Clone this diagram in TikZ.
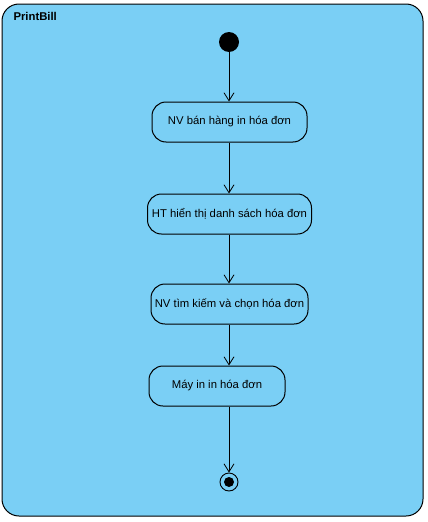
\documentclass[tikz,border=0pt]{standalone}
\usepackage{fontspec}
\setmainfont{Liberation Sans}
\usetikzlibrary{arrows.meta}
\definecolor{vpblue}{RGB}{122,207,245}
\begin{document}
\begin{tikzpicture}[x=1pt,y=-1pt,
  act/.style={draw=black,fill=vpblue,rounded corners=14pt,line width=1pt,minimum height=40pt,inner xsep=0pt,font=\fontsize{11.3}{13}\selectfont},
  flow/.style={draw=black,line width=0.8pt,-{Straight Barb[length=8pt,width=10pt,line width=0.8pt]}}]
\useasboundingbox (0,0) rectangle (428,522);
\fill[white] (0,0) rectangle (428,522);
\draw[fill=vpblue,line width=1pt,rounded corners=17pt] (2,4) rectangle (423,516);
\node[anchor=west,font=\bfseries\fontsize{11.3}{13}\selectfont] (title) at (10,16) {PrintBill};
\node[circle,fill=black,minimum size=20pt,inner sep=0pt] (start) at (229,42) {};
\node[act,minimum width=155pt] (b1) at (229.5,122) {NV bán hàng in hóa đơn};
\node[act,minimum width=164pt] (b2) at (229.5,214) {HT hiển thị danh sách hóa đơn};
\node[act,minimum width=157pt] (b3) at (229.5,304) {NV tìm kiếm và chọn hóa đơn};
\node[act,minimum width=136pt] (b4) at (217,386) {Máy in in hóa đơn};
\node[circle,draw=black,line width=0.9pt,fill=vpblue,minimum size=18pt,inner sep=0pt] (end) at (229,482) {};
\node[circle,fill=black,minimum size=10pt,inner sep=0pt] (endin) at (end) {};
\draw[flow] (start) -- (start |- b1.north);
\draw[flow] (b1.south -| start) -- (b2.north -| start);
\draw[flow] (b2.south -| start) -- (b3.north -| start);
\draw[flow] (b3.south -| start) -- (b4.north -| start);
\draw[flow] (b4.south -| start) -- (end);
\end{tikzpicture}
\end{document}
